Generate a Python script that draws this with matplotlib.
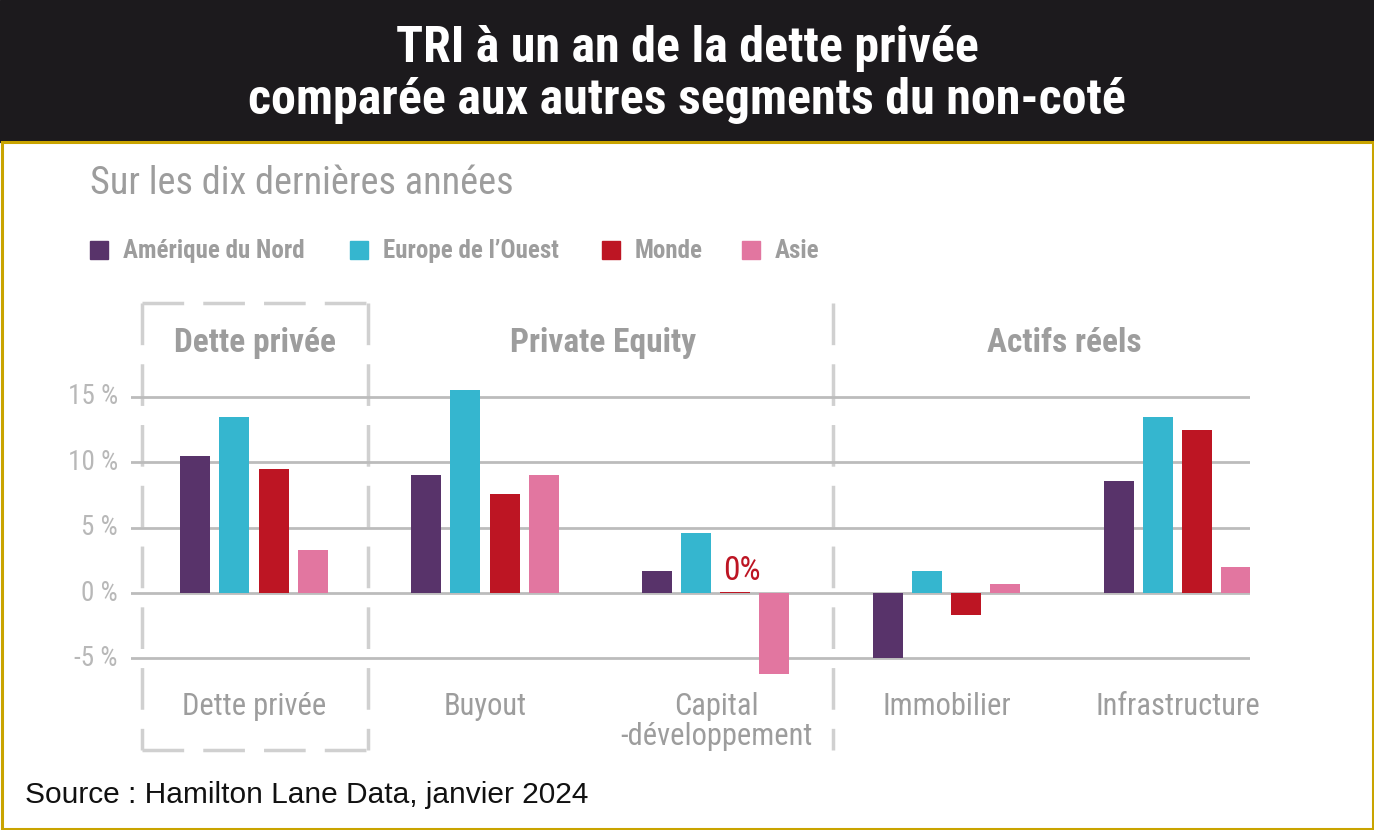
import numpy as np
import matplotlib.pyplot as plt
from matplotlib import font_manager as fm
from matplotlib.patches import Rectangle

# === Données ===
categories = ["Dette privée", "Buyout", "Capital\n-développement", "Immobilier", "Infrastructure"]
series = ["Amérique du Nord", "Europe de l’Ouest", "Monde", "Asie"]
amerique_nord = [10.5, 9.0, 1.7, -5.0, 8.6]
europe_ouest = [13.5, 15.5, 4.6, 1.7, 13.5]
monde = [9.5, 7.6, 0.1, -1.7, 12.5]
asie = [3.3, 9.0, -6.2, 0.7, 2.0]
yticks = [-5, 0, 5, 10, 15]
colors = ["#58336a", "#35b6cf", "#bd1523", "#e276a0"]

# police condensée si disponible
noms = {(f.name, f.stretch) for f in fm.fontManager.ttflist}
COND = ["Roboto", "DejaVu Sans"]
STRETCH = "normal"
for nom in ["Roboto Condensed", "Liberation Sans Narrow", "Open Sans Condensed"]:
    if any(n == nom for n, s in noms):
        COND = [nom, "DejaVu Sans"]
        break
else:
    for nom in ["Roboto", "Open Sans", "DejaVu Sans"]:
        if any(n == nom and s in ("condensed", "semi-condensed", 300, 500) for n, s in noms):
            COND = [nom, "DejaVu Sans"]
            STRETCH = "condensed"
            break
plt.rcParams["font.stretch"] = STRETCH

GRIS = "#9d9d9d"

W, H = 1374, 830
fig = plt.figure(figsize=(W / 100, H / 100), dpi=100)

def fx(px):
    return px / W

def fy(py):
    return 1 - py / H

# === Bandeau titre + cadre ===
bg = fig.add_axes([0, 0, 1, 1])
bg.set_xlim(0, W)
bg.set_ylim(H, 0)
bg.axis("off")
bg.add_patch(Rectangle((0, 0), W, 142, color="#1c1a1d"))
bg.add_patch(Rectangle((1.5, 142), W - 3, H - 143.5, fill=False, ec="#c9a400", lw=2.2))

fig.text(0.5, fy(62), "TRI à un an de la dette privée", color="white", fontsize=36,
         fontweight="bold", family=COND, ha="center", va="baseline")
fig.text(0.5, fy(114), "comparée aux autres segments du non-coté", color="white", fontsize=36,
         fontweight="bold", family=COND, ha="center", va="baseline")

fig.text(fx(90), fy(183), "Sur les dix dernières années", color=GRIS, fontsize=27.5,
         family=COND, ha="left", va="center")

# légende
leg_x = [90, 350, 602, 742]
for x0, name, c in zip(leg_x, series, colors):
    bg.add_patch(Rectangle((x0, 241), 18, 18, color=c))
    fig.text(fx(x0 + 33), fy(251), name, color=GRIS, fontsize=18, fontweight="bold",
             family=COND, ha="left", va="center")

# === Graphique ===
top_px, bot_px = 303, 750
left_px, right_px = 131, 1250
ppu = 13.07
ax = fig.add_axes([fx(left_px), fy(bot_px), fx(right_px - left_px), (bot_px - top_px) / H])
ax.set_ylim((593 - bot_px) / ppu, (593 - top_px) / ppu)
gap = 231.0
ax.set_xlim((left_px - 254) / gap, (right_px - 254) / gap)
ax.axis("off")

for t in yticks:
    ax.axhline(t, color="#bcbcbc", lw=2, zorder=1)
    ax.text((118 - 254) / gap, t, f"{t} %", color="#b8b8b8", fontsize=19.5, family=COND,
            ha="right", va="center", clip_on=False)

x = np.arange(len(categories))
off = 39 / gap
bw = 30 / gap
for i, (vals, c) in enumerate(zip([amerique_nord, europe_ouest, monde, asie], colors)):
    ax.bar(x + (i - 1.5) * off, vals, width=bw, color=c, zorder=2)

ax.text(x[2] + 0.5 * off + 0.03, 1.0, "0%", color="#bd1523", fontsize=24, family=COND,
        ha="center", va="baseline")

# séparateurs en pointillés
ymin, ymax = ax.get_ylim()
dash = dict(color="#d0d0d0", lw=2.5, ls=(0, (12, 5.5)), clip_on=False, zorder=0)
xl, xr, xs = (142 - 254) / gap, (368 - 254) / gap, (833 - 254) / gap
ax.plot([xl, xl], [ymax, ymin], **dash)
ax.plot([xr, xr], [ymax, ymin], **dash)
ax.plot([xs, xs], [ymax, ymin], **dash)
ax.plot([xl, xr], [ymax, ymax], **dash)
ax.plot([xl, xr], [ymin, ymin], **dash)

# titres de segments
y_titre = (593 - 343) / ppu
ax.text((xl + xr) / 2, y_titre, "Dette privée", color=GRIS, fontsize=24,
        fontweight="bold", family=COND, ha="center", va="center")
ax.text((xr + xs) / 2 + 0.01, y_titre, "Private Equity", color=GRIS, fontsize=24,
        fontweight="bold", family=COND, ha="center", va="center")
ax.text((1064 - 254) / gap, y_titre, "Actifs réels", color=GRIS,
        fontsize=24, fontweight="bold", family=COND, ha="center", va="center")

for xi, lab in zip(x, categories):
    ax.text(xi, (593 - 692) / ppu, lab, color=GRIS, fontsize=22, family=COND,
            ha="center", va="top", linespacing=1.05)

fig.text(fx(25), fy(795), "Source : Hamilton Lane Data, janvier 2024", color="#111111",
         fontsize=21.5, family=["Liberation Sans", "DejaVu Sans"], ha="left", va="center")

fig.savefig("out.png", dpi=100)
